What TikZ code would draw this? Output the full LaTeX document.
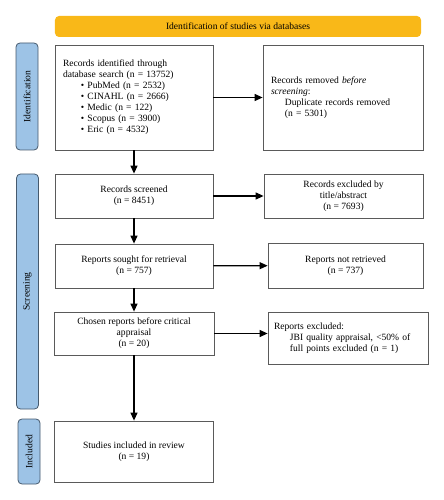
\documentclass[tikz,border=0pt]{standalone}
\usepackage{fontspec}
\setmainfont{Liberation Serif}
\usetikzlibrary{arrows.meta}
\definecolor{barorange}{RGB}{249,184,24}
\definecolor{labelblue}{RGB}{157,195,230}
\definecolor{labeledge}{RGB}{70,90,110}
\definecolor{boxedge}{RGB}{90,90,90}
\tikzset{
  box/.style={draw=boxedge,line width=0.8pt,inner sep=0pt,font=\fontsize{9.6}{11}\selectfont},
  stage/.style={draw=labeledge,fill=labelblue,line width=0.8pt,rounded corners=4pt,
    minimum height=22bp,inner sep=0pt,rotate=90,font=\fontsize{9.6}{11}\selectfont},
  flow/.style={-{Triangle[length=8pt,width=7pt]},line width=1.2pt}
}
\begin{document}
\begin{tikzpicture}[x=1bp,y=-1bp]
\useasboundingbox (0,0) rectangle (444,500);
% header bar
\node[fill=barorange,rounded corners=4pt,minimum width=366bp,minimum height=21bp,
  font=\fontsize{9.6}{11}\selectfont] (head) at (238,26.5) {Identification of studies via databases};
% stage labels
\node[stage,minimum width=107bp] (ident) at (27,96.5) {Identification};
\node[stage,minimum width=235bp] (screen) at (27.5,291.5) {Screening};
\node[stage,minimum width=65bp] (incl) at (29,451.5) {Included};
% left column
\node[box,minimum width=158bp,minimum height=105bp,align=left,text width=142bp] (found) at (134,97.5)
  {Records identified through\\
   database search (n = 13752)\\
   \hspace*{18pt}\textbullet\ PubMed (n = 2532)\\
   \hspace*{18pt}\textbullet\ CINAHL (n = 2666)\\
   \hspace*{18pt}\textbullet\ Medic (n = 122)\\
   \hspace*{18pt}\textbullet\ Scopus (n = 3900)\\
   \hspace*{18pt}\textbullet\ Eric (n = 4532)};
\node[box,minimum width=158bp,minimum height=44bp,align=center] (screened) at (134,196)
  {Records screened\\(n = 8451)};
\node[box,minimum width=158bp,minimum height=44bp,align=center] (sought) at (134,266)
  {Reports sought for retrieval\\(n = 757)};
\node[box,minimum width=160bp,minimum height=43bp,align=center] (chosen) at (134,333.5)
  {Chosen reports before critical\\appraisal\\(n = 20)};
\node[box,minimum width=159bp,minimum height=61bp,align=center] (studies) at (134,451.5)
  {Studies included in review\\(n = 19)};
% right column
\node[box,minimum width=160bp,minimum height=105bp,align=left,text width=144bp] (dupl) at (343,97.5)
  {Records removed \emph{before}\\
   \emph{screening}:\\
   \hspace*{14pt}Duplicate records removed\\
   \hspace*{14pt}(n = 5301)};
\node[box,minimum width=159bp,minimum height=44bp,align=center] (titleabs) at (343.5,196)
  {Records excluded by\\title/abstract\\(n = 7693)};
\node[box,minimum width=155bp,minimum height=45bp,align=center] (notret) at (345.5,265.5)
  {Reports not retrieved\\(n = 737)};
\node[box,minimum width=160bp,minimum height=52bp,align=left,text width=148bp] (jbi) at (348,338)
  {Reports excluded:\\
   \hspace*{16pt}JBI quality appraisal, <50\% of\\
   \hspace*{16pt}full points excluded (n = 1)};
% arrows
\draw[flow] (found) -- (screened);
\draw[flow] (screened) -- (sought);
\draw[flow] (sought) -- (chosen);
\draw[flow] (chosen) -- (studies);
\draw[flow] (found) -- (dupl);
\draw[flow] (screened) -- (titleabs);
\draw[flow] (sought) -- (notret);
\draw[flow] (chosen.east) -- (chosen.east -| jbi.west);
\end{tikzpicture}
\end{document}
